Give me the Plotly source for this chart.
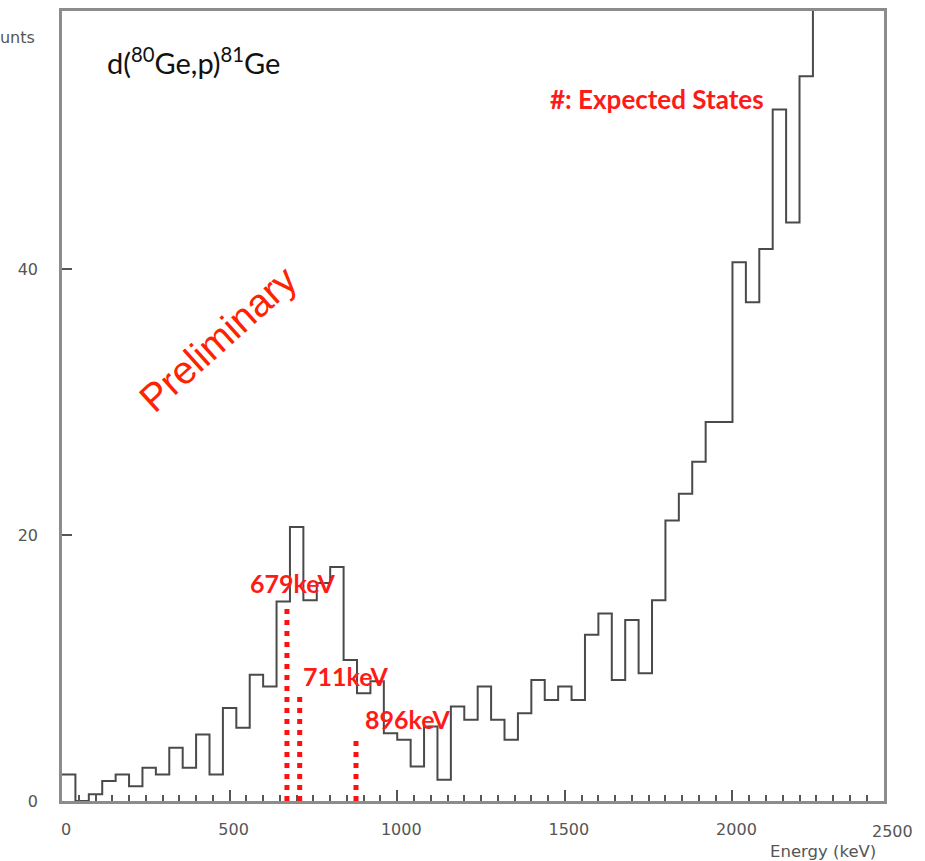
import numpy as np
import plotly.graph_objects as go

# ---- data ----
bin_width_kev = 40
counts = [2.0, 0.0, 0.5, 1.5, 2.0, 1.1, 2.5, 2.0, 4.0, 2.5,
          5.0, 2.0, 7.0, 5.5, 9.5, 8.6, 15.0, 20.6, 15.1, 16.4,
          17.6, 10.6, 8.1, 9.0, 5.1, 4.6, 2.6, 5.6, 1.6, 7.1,
          6.1, 8.6, 6.1, 4.6, 6.6, 9.1, 7.6, 8.6, 7.6, 12.5,
          14.1, 9.1, 13.6, 9.6, 15.1, 21.1, 23.1, 25.5, 28.5, 28.5,
          40.5, 37.5, 41.5, 52.0, 43.5, 54.5, 65.0]
state_labels = ["679keV", "711keV", "896keV"]
state_line_kev = [671, 709, 877]
state_line_height = [14.7, 7.9, 4.6]
x_tick_vals = [0, 500, 1000, 1500, 2000]
y_tick_vals = [0, 20, 40]

edges = list(np.arange(len(counts) + 1) * bin_width_kev)
step_y = counts + [counts[-1]]

fig = go.Figure()
fig.add_trace(go.Scatter(x=edges, y=step_y, mode="lines", line_shape="hv",
                         line=dict(color="#4a4a4a", width=2), hoverinfo="skip",
                         showlegend=False))

for xk, h in zip(state_line_kev, state_line_height):
    fig.add_trace(go.Scatter(x=[xk, xk], y=[0, h], mode="lines",
                             line=dict(color="#ff1010", width=5, dash="5px,6px"),
                             showlegend=False, hoverinfo="skip"))

label_pos = [(556, 16.4), (712, 9.4), (897, 6.2)]
red_bold = dict(family="Lato", size=25, color="#ff1a1a", weight="bold")
annotations = []
for txt, (lx, ly) in zip(state_labels, label_pos):
    annotations.append(dict(x=lx, y=ly, xref="x", yref="y", text=txt, showarrow=False,
                            xanchor="left", yanchor="middle", font=red_bold))

tick_font = dict(family="DejaVu Sans", size=16, color="#555")
annotations += [
    dict(x=1.0105, y=0, xref="paper", yref="paper", text="2500", showarrow=False,
         xanchor="center", yanchor="top", yshift=-19, font=tick_font),
    dict(x=-0.030, y=0.966, xref="paper", yref="paper", text="Counts", showarrow=False,
         xanchor="right", yanchor="middle", font=tick_font),
    dict(x=1.0, y=-0.064, xref="paper", yref="paper", text="Energy (keV)", showarrow=False,
         xanchor="right", yanchor="middle", xshift=-6,
         font=dict(family="DejaVu Sans", size=16.5, color="#555")),
    dict(x=0.052, y=0.937, xref="paper", yref="paper",
         text="d(<sup>80</sup>Ge,p)<sup>81</sup>Ge", showarrow=False,
         xanchor="left", yanchor="middle", font=dict(family="Lato", size=29, color="#111")),
    dict(x=0.591, y=0.889, xref="paper", yref="paper", text="#: Expected States",
         showarrow=False, xanchor="left", yanchor="middle",
         font=dict(family="Lato", size=26, color="#ff1a1a", weight="bold")),
    dict(x=466, y=34.8, xref="x", yref="y", text="Preliminary", showarrow=False,
         textangle=-42, font=dict(family="Liberation Sans", size=39, color="#ff2200")),
]

fig.update_layout(
    width=925, height=861,
    margin=dict(l=62, r=41, t=8, b=60),
    paper_bgcolor="white", plot_bgcolor="white",
    annotations=annotations,
    xaxis=dict(range=[0, 2452], showgrid=False, zeroline=False,
               showline=True, mirror=True, linecolor="#8c8c8c", linewidth=2.5,
               tickvals=x_tick_vals, ticks="inside", ticklen=11, tickwidth=1.5,
               tickcolor="#555", ticklabelstandoff=12, ticklabelshift=4,
               tickfont=tick_font,
               minor=dict(dtick=50, tick0=0, ticks="inside", ticklen=6,
                          tickwidth=1.5, tickcolor="#555")),
    yaxis=dict(range=[0, 59.4], showgrid=False, zeroline=False,
               showline=True, mirror=True, linecolor="#8c8c8c", linewidth=2.5,
               tickvals=y_tick_vals, ticks="inside", ticklen=10, tickwidth=1.5,
               tickcolor="#555", ticklabelstandoff=18,
               tickfont=tick_font),
)

fig.write_html("out.html")
